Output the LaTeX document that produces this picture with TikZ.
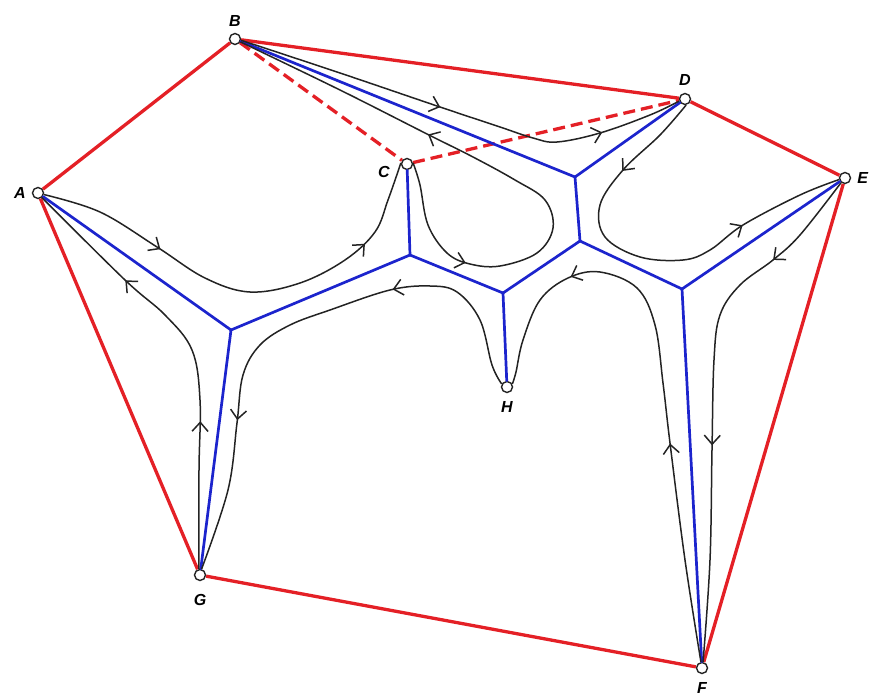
\documentclass[tikz,border=0pt]{standalone}
\usepackage{fontspec}
\setsansfont{Liberation Sans}
\usetikzlibrary{arrows.meta,decorations.markings}
\definecolor{hullred}{RGB}{228,32,38}
\definecolor{skelblue}{RGB}{28,36,205}
\definecolor{flowgray}{RGB}{35,35,35}

\begin{document}
\begin{tikzpicture}[x=1pt, y=-1pt,
  every label/.style={font=\sffamily\bfseries\itshape\fontsize{16}{16}\selectfont, inner sep=0pt},
  pt/.style={draw=flowgray, circle, fill=white, line width=1.4pt, minimum size=11pt, inner sep=0pt},
  hull/.style={draw=hullred, line width=3.3pt, line join=round},
  skel/.style={draw=skelblue, line width=2.7pt, line cap=round},
  flowline/.style 2 args={draw=flowgray, line width=1.5pt, postaction={decorate, decoration={markings,
    mark=at position #1 with {\arrow{Straight Barb[length=9pt, width=16pt]}},
    mark=at position #2 with {\arrow{Straight Barb[length=9pt, width=16pt]}}}}}]
  \useasboundingbox (0,0) rectangle (871,698);
  % vertices of the polygon
  \node[pt, label={[label distance=6pt]left:A}]  (A) at (38,193) {};
  \node[pt, label={[label distance=6pt]above:B}] (B) at (235,39) {};
  \node[pt, label={[label distance=11pt]188:C}]  (C) at (407,164) {};
  \node[pt, label={[label distance=7pt]above:D}] (D) at (685,99) {};
  \node[pt, label={[label distance=6pt]right:E}] (E) at (845,178) {};
  \node[pt, label={[label distance=8pt]below:F}] (F) at (702,668) {};
  \node[pt, label={[label distance=13pt]below:G}] (G) at (200,575) {};
  \node[pt, label={[label distance=8pt]below:H}] (H) at (507,387) {};
  % junctions of the skeleton
  \coordinate (J1) at (231,330);
  \coordinate (J2) at (410,255);
  \coordinate (J3) at (503,293);
  \coordinate (J4) at (580,241);
  \coordinate (J5) at (575,177);
  \coordinate (J6) at (682,289);
  \draw[hull] (A) -- (B) -- (D) -- (E) -- (F) -- (G) -- (A);
  \draw[hull, dash pattern=on 12pt off 6pt] (B) -- (C) -- (D);
  \foreach \u/\v in {A/J1, G/J1, J1/J2, C/J2, J2/J3, H/J3, J3/J4, J4/J5, B/J5, D/J5, J4/J6, E/J6, F/J6}
    \draw[skel] (\u) -- (\v);
  % flow lines
  \draw[flowline={0.29}{0.80}] plot[smooth, tension=0.6] coordinates {(A.-15) (100,212) (157,247) (205,278) (250,292) (300,283) (345,260) (375,232) (388,200) (C.170)};
  \draw[flowline={0.20}{0.65}] plot[smooth, tension=0.6] coordinates {(C.10) (420,185) (428,225) (447,253) (470,264) (500,266) (537,253) (553,228) (545,200) (515,180) (473,157) (427,134) (340,90) (B.-28)};
  \draw[flowline={0.455}{0.82}] plot[smooth, tension=0.6] coordinates {(B.-12) (340,73) (440,107) (500,127) (533,138) (557,142) (600,133) (650,115) (D.-160)};
  \draw[flowline={0.215}{0.75}] plot[smooth, tension=0.6] coordinates {(D.-80) (660,135) (623,170) (600,205) (605,237) (640,257) (683,260) (710,250) (743,225) (800,195) (E.-165)};
  \draw[flowline={0.195}{0.59}] plot[smooth, tension=0.6] coordinates {(E.-130) (800,235) (773,260) (740,285) (720,315) (714,360) (712,450) (710,560) (F.80)};
  \draw[flowline={0.38}{0.78}] plot[smooth, tension=0.6] coordinates {(F.100) (685,560) (670,443) (663,383) (655,325) (637,288) (600,272) (568,278) (540,300) (523,340) (516,372) (H.30)};
  \draw[flowline={0.31}{0.72}] plot[smooth, tension=0.6] coordinates {(H.150) (492,365) (480,320) (457,292) (430,286) (390,290) (330,310) (290,325) (260,345) (243,375) (237,423) (228,490) (G.75)};
  \draw[flowline={0.34}{0.73}] plot[smooth, tension=0.6] coordinates {(G.100) (199,470) (200,400) (192,350) (165,315) (125,280) (A.-50)};
\end{tikzpicture}
\end{document}
